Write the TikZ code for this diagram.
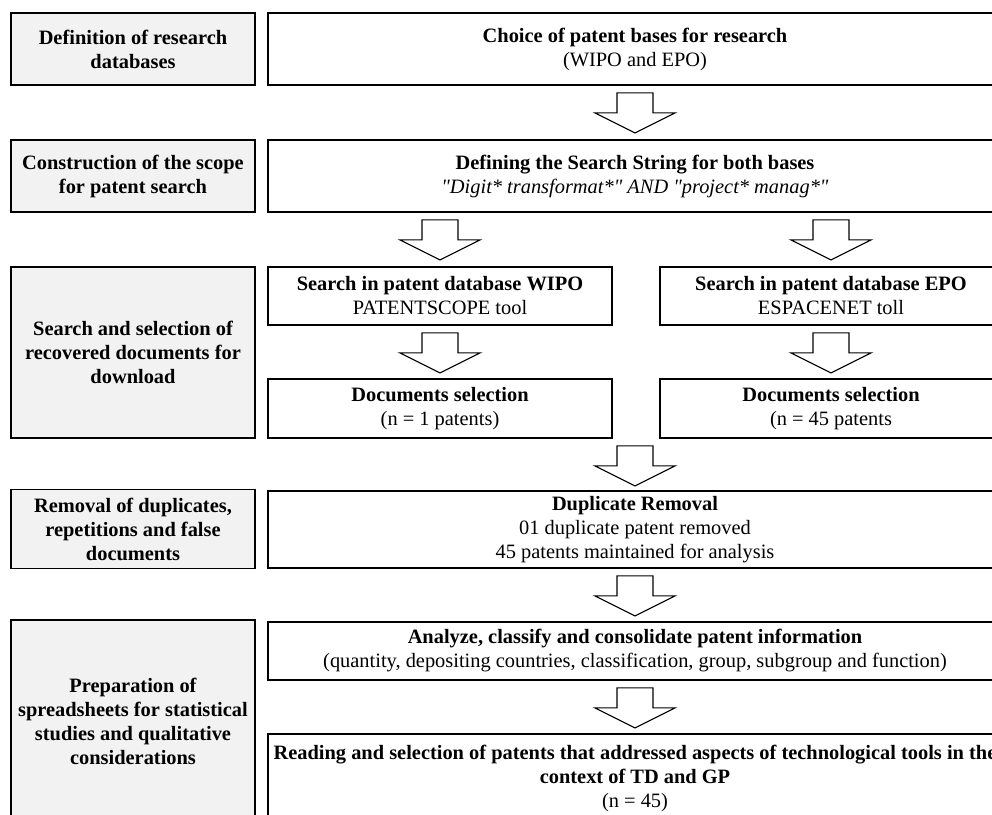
\documentclass[tikz,border=0pt]{standalone}
\usepackage{fontspec}
\setmainfont{Liberation Serif}[Ligatures=TeXOff]
\usetikzlibrary{calc}
\definecolor{boxgray}{HTML}{F2F2F2}
\tikzset{
  basebox/.style={draw=black, line width=1.8pt, align=center, inner sep=2pt, font=\fontsize{20.4}{24}\selectfont},
  lbox/.style={basebox, fill=boxgray, font=\bfseries\fontsize{20.4}{24}\selectfont},
  rbox/.style={basebox, fill=white},
  blockarr/.style={draw=black, line width=1.1pt, fill=white, line join=miter},
}
\newcommand\blkarrow[2]{%
  \coordinate (t) at (#2.north |- #1.south);
  \draw[blockarr] ($(t)+(-18,7)$) -- ($(t)+(18,7)$) -- ($(t)+(18,27)$) -- ($(t)+(40,27)$)
    -- ($(t)+(0,47)$) -- ($(t)+(-40,27)$) -- ($(t)+(-18,27)$) -- cycle;}
\begin{document}
\begin{tikzpicture}[x=1pt, y=-1pt]
\useasboundingbox (0,0) rectangle (992,814);
\clip (0,0) rectangle (992,814);
\fill[white] (0,0) rectangle (992,814);
% left column
\node[lbox, minimum width=244pt, minimum height=72pt] (L1) at (133,49) {Definition of research\\databases};
\node[lbox, minimum width=244pt, minimum height=72pt] (L2) at (133,176) {Construction of the scope\\for patent search};
\node[lbox, minimum width=244pt, minimum height=171pt] (L3) at (133,352.5) {Search and selection of\\recovered documents for\\download};
\node[lbox, minimum width=244pt, minimum height=79pt] (L4) at (133,529) {Removal of duplicates,\\repetitions and false\\documents};
\node[lbox, minimum width=244pt, minimum height=202pt] (L5) at (133,721) {Preparation of\\spreadsheets for statistical\\studies and qualitative\\considerations};
% right column
\node[rbox, minimum width=734pt, minimum height=72pt] (R1) at (635,49) {\textbf{Choice of patent bases for research}\\(WIPO and EPO)};
\node[rbox, minimum width=734pt, minimum height=72pt] (R2) at (635,176) {\textbf{Defining the Search String for both bases}\\\textit{"Digit* transformat*" AND "project* manag*"}};
\node[rbox, minimum width=344pt, minimum height=58pt] (W1) at (440,296) {\textbf{Search in patent database WIPO}\\PATENTSCOPE tool};
\node[rbox, minimum width=342pt, minimum height=58pt] (E1) at (831,296) {\textbf{Search in patent database EPO}\\ESPACENET toll};
\node[rbox, minimum width=344pt, minimum height=59pt] (W2) at (440,408.5) {\textbf{Documents selection}\\(n = 1 patents)};
\node[rbox, minimum width=342pt, minimum height=59pt] (E2) at (831,408.5) {\textbf{Documents selection}\\(n = 45 patents};
\node[rbox, minimum width=734pt, minimum height=77pt] (R4) at (635,529.5) {\textbf{Duplicate Removal}\\01 duplicate patent removed\\45 patents maintained for analysis};
\node[rbox, minimum width=734pt, minimum height=58pt] (R5) at (635,651) {\textbf{Analyze, classify and consolidate patent information}\\(quantity, depositing countries, classification, group, subgroup and function)};
\node[rbox, minimum width=734pt, minimum height=88pt] (R6) at (635,778) {\textbf{Reading and selection of patents that addressed aspects of technological tools in the}\\\textbf{context of TD and GP}\\(n = 45)};
% block arrows
\blkarrow{R1}{R1}
\blkarrow{R2}{W1}
\blkarrow{R2}{E1}
\blkarrow{W1}{W2}
\blkarrow{E1}{E2}
\blkarrow{E2}{R4}
\blkarrow{R4}{R5}
\blkarrow{R5}{R6}
\end{tikzpicture}
\end{document}
